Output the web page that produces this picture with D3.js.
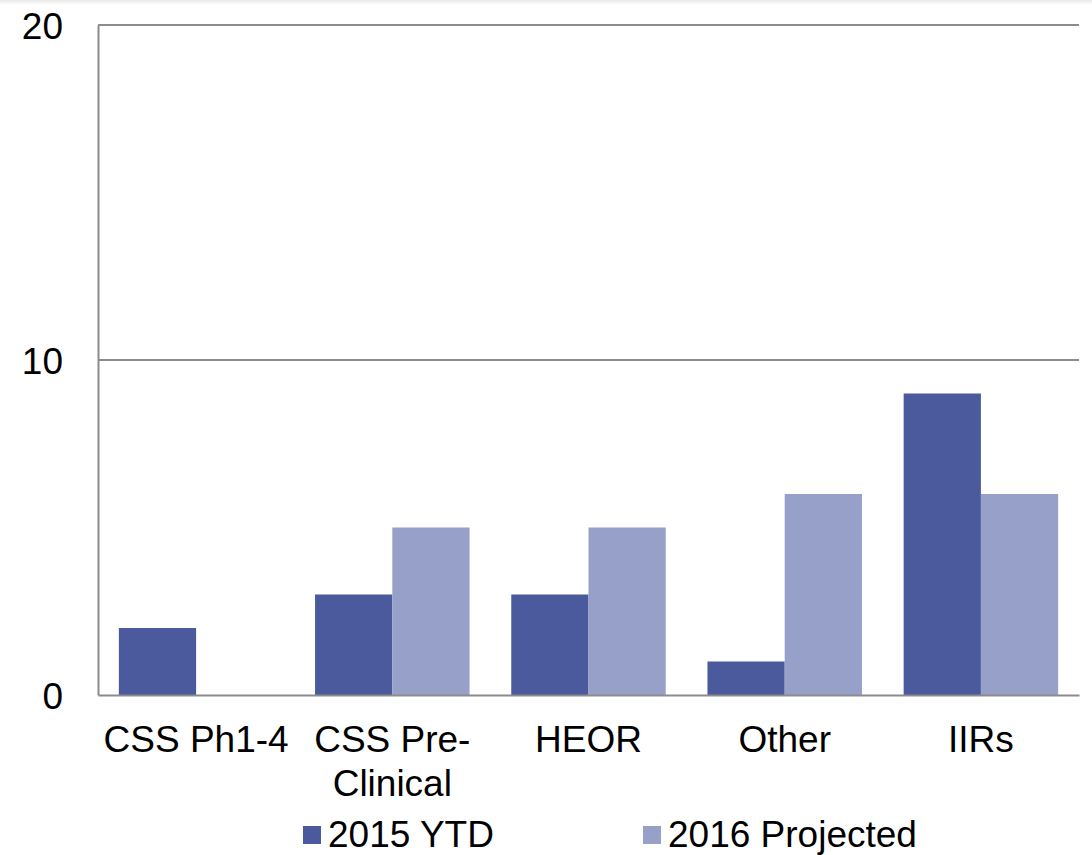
<!DOCTYPE html>
<html>
<head>
<meta charset="utf-8">
<script src="https://cdn.jsdelivr.net/npm/d3@7"></script>
<style>
  html, body { margin: 0; padding: 0; background: #fff; }
  svg { display: block; font-family: "Liberation Sans", Arial, sans-serif; }
</style>
</head>
<body>
<svg id="chart" width="1092" height="855"></svg>
<script>
// Chart data
const categories = [["CSS Ph1-4"], ["CSS Pre-", "Clinical"], ["HEOR"], ["Other"], ["IIRs"]];
const seriesNames = ["2015 YTD", "2016 Projected"];
const values2015 = [2, 3, 3, 1, 9];
const values2016 = [0, 5, 5, 6, 6];
const yTicks = [0, 10, 20];
const colors = ["#4A5A9C", "#97A0C9"];

const svg = d3.select("#chart");
const W = 1092, H = 855;
const plot = { left: 98, right: 1079, top: 25, bottom: 695 };

// faint shading along the top edge
const defs = svg.append("defs");
const grad = defs.append("linearGradient").attr("id", "topShade")
  .attr("x1", 0).attr("y1", 0).attr("x2", 0).attr("y2", 1);
grad.append("stop").attr("offset", "0%").attr("stop-color", "#e9e9e9");
grad.append("stop").attr("offset", "100%").attr("stop-color", "#ffffff");
svg.append("rect").attr("x", 0).attr("y", 0).attr("width", W).attr("height", 5)
  .attr("fill", "url(#topShade)");

const keys = categories.map(c => c.join(" "));
const x = d3.scaleBand().domain(keys).range([plot.left, plot.right]).paddingInner(0).paddingOuter(0);
const x1 = d3.scaleBand().domain(seriesNames).range([0, x.bandwidth()]).paddingInner(0).paddingOuter(0.27);
const y = d3.scaleLinear().domain([0, 20]).range([plot.bottom, plot.top]);

// gridlines
svg.append("g").selectAll("line").data(yTicks.filter(t => t > 0)).join("line")
  .attr("x1", plot.left).attr("x2", plot.right)
  .attr("y1", d => y(d)).attr("y2", d => y(d))
  .attr("stroke", "#8c8c8c").attr("stroke-width", 2);

// y axis
const yAxis = svg.append("g").attr("transform", `translate(${plot.left},0)`)
  .call(d3.axisLeft(y).tickValues(yTicks).tickSize(0).tickPadding(35).tickFormat(d3.format("d")));
yAxis.select(".domain").attr("stroke", "#8c8c8c").attr("stroke-width", 2);
yAxis.selectAll("text").attr("font-size", 37).attr("fill", "#000")
  .attr("dy", "0.36em")
  .attr("font-family", "Liberation Sans, Arial, sans-serif");

// bars
const rows = keys.map((k, i) => ({ key: k, vals: [values2015[i], values2016[i]] }));
const groups = svg.append("g").selectAll("g").data(rows).join("g")
  .attr("transform", d => `translate(${x(d.key)},0)`);
groups.selectAll("rect").data(d => d.vals.map((v, j) => ({ s: seriesNames[j], v, j }))).join("rect")
  .attr("x", d => x1(d.s))
  .attr("width", x1.bandwidth())
  .attr("y", d => y(d.v))
  .attr("height", d => y(0) - y(d.v))
  .attr("fill", d => colors[d.j]);

// x axis
const xAxis = svg.append("g").attr("transform", `translate(0,${plot.bottom})`)
  .call(d3.axisBottom(x).tickSize(0).tickFormat(""));
xAxis.select(".domain").attr("stroke", "#8c8c8c").attr("stroke-width", 2);

// category labels (wrapped)
const labels = svg.append("g").selectAll("text").data(categories).join("text")
  .attr("x", (d, i) => x(keys[i]) + x.bandwidth() / 2)
  .attr("y", 752)
  .attr("text-anchor", "middle")
  .attr("font-size", 37)
  .attr("fill", "#000");
labels.selectAll("tspan").data(d => d).join("tspan")
  .attr("x", function() { return this.parentNode.getAttribute("x"); })
  .attr("dy", (d, i) => i === 0 ? 0 : 43.5)
  .text(d => d);

// legend
const legendItems = [
  { name: seriesNames[0], color: colors[0], x: 303 },
  { name: seriesNames[1], color: colors[1], x: 643 }
];
const lg = svg.append("g").selectAll("g").data(legendItems).join("g")
  .attr("transform", d => `translate(${d.x},0)`);
lg.append("rect").attr("x", 0).attr("y", 826).attr("width", 18).attr("height", 18)
  .attr("fill", d => d.color);
lg.append("text")
  .attr("x", 25).attr("y", 847)
  .attr("font-size", 37).attr("fill", "#000")
  .text(d => d.name);
</script>
</body>
</html>
